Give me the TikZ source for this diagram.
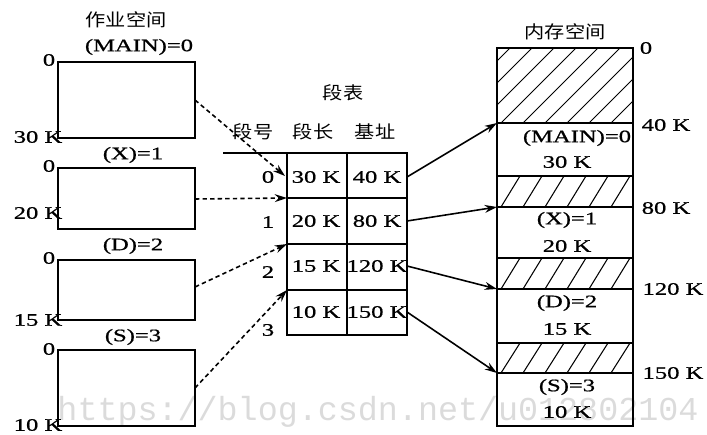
\documentclass[tikz,border=0pt]{standalone}
\usepackage{fontspec}
\setmainfont{Liberation Serif}[FakeStretch=1.4, FakeBold=0.8]
\setmonofont{Liberation Mono}
\newfontfamily\cjk{Noto Sans CJK SC}[FakeStretch=1.15]
\usetikzlibrary{arrows.meta}

\begin{document}
\begin{tikzpicture}[x=0.02cm, y=-0.02cm]
    \useasboundingbox (0,0) rectangle (707,435);

    % Kiểu nét và chữ
    \tikzset{
        c_box/.style={line width=1pt, color=black},
        c_hatch/.style={line width=0.6pt, color=black},
        c_dash/.style={line width=0.9pt, dash pattern=on 2.5pt off 1.8pt, -{Stealth[length=7pt, width=4.5pt]}},
        c_arrow/.style={line width=0.9pt, -{Stealth[length=7pt, width=4.5pt]}},
        t_lat/.style={inner sep=0pt, font=\fontsize{10}{12}\selectfont},
        t_zh/.style={inner sep=0pt, font=\cjk\fontsize{10}{12}\selectfont},
        t_wm/.style={inner sep=0pt, text=gray!28, font=\ttfamily\fontsize{19}{22}\selectfont}
    }

    % Chữ mờ phía dưới
    \node[t_wm] (wm) at (378,412) {https://blog.csdn.net/u012802104};

    % Không gian công việc: bốn đoạn
    \foreach \t/\b in {62/138, 168/229, 260/320, 350/426}
        \draw[c_box] (58,\t) rectangle (195,\b);

    \node[t_zh] (ws) at (126,20) {作业空间};
    \node[t_lat] (nMain) at (139,47) {(MAIN)=0};
    \node[t_lat] (nX) at (133,155) {(X)=1};
    \node[t_lat] (nD) at (133,246) {(D)=2};
    \node[t_lat] (nS) at (133,337) {(S)=3};

    \foreach \y [count=\i] in {60,166,258,349}
        \node[t_lat] (z\i) at (49,\y) {0};
    \foreach \y/\s [count=\i] in {137/30, 213/20, 320/15, 425/10}
        \node[t_lat] (len\i) at (38,\y) {\s\ K};

    % Bảng đoạn
    \draw[c_box] (223,153) -- (407,153);
    \draw[c_box] (287,153) rectangle (407,335);
    \draw[c_box] (347,153) -- (347,335);
    \foreach \y in {198,244,290}
        \draw[c_box] (287,\y) -- (407,\y);

    \node[t_zh] (tbl) at (343,93) {段表};
    \node[t_zh] (hNo) at (253,132) {段号};
    \node[t_zh] (hLen) at (313,132) {段长};
    \node[t_zh] (hBase) at (375,132) {基址};

    \foreach \y/\n in {177/0, 222/1, 272/2, 330/3}
        \node[t_lat] (r\n) at (268,\y) {\n};
    \foreach \y/\l/\b [count=\i] in {177/30/40, 221/20/80, 266/15/120, 312/10/150} {
        \node[t_lat] (cl\i) at (316,\y) {\l\ K};
        \node[t_lat] (cb\i) at (377,\y) {\b\ K};
    }

    % Không gian bộ nhớ
    \foreach \t/\b/\d in {48/123/75, 176/207/19, 258/289/19, 343/373/19} {
        \begin{scope}
            \clip (497,\t) rectangle (633,\b);
            \foreach \x in {413,435,...,640}
                \draw[c_hatch] (\x,\b) -- (\x+\d,\t);
        \end{scope}
    }
    \draw[c_box] (497,48) rectangle (633,426);
    \foreach \y in {123,176,207,258,289,343,373}
        \draw[c_box] (497,\y) -- (633,\y);

    \node[t_zh] (mem) at (565,32) {内存空间};
    \node[t_lat] (a0) at (646,48) {0};
    \node[t_lat] (a1) at (666,125) {40 K};
    \node[t_lat] (a2) at (666,208) {80 K};
    \node[t_lat] (a3) at (673,289) {120 K};
    \node[t_lat] (a4) at (673,373) {150 K};

    \node[t_lat] (mMain) at (577,138) {(MAIN)=0};
    \node[t_lat] (mMainL) at (567,162) {30 K};
    \node[t_lat] (mX) at (567,220) {(X)=1};
    \node[t_lat] (mXL) at (567,246) {20 K};
    \node[t_lat] (mD) at (567,303) {(D)=2};
    \node[t_lat] (mDL) at (567,329) {15 K};
    \node[t_lat] (mS) at (567,387) {(S)=3};
    \node[t_lat] (mSL) at (567,412) {10 K};

    % Điểm đầu cuối của các mũi tên
    \coordinate (m0) at (195,100);
    \coordinate (m1) at (195,199);
    \coordinate (m2) at (195,287);
    \coordinate (m3) at (195,388);
    \coordinate (t0) at (285,176);
    \coordinate (t1) at (287,198);
    \coordinate (t2) at (287,244);
    \coordinate (t3) at (287,290);
    \coordinate (b0) at (407,177);
    \coordinate (b1) at (407,221);
    \coordinate (b2) at (407,266);
    \coordinate (b3) at (407,312);
    \coordinate (p0) at (497,123);
    \coordinate (p1) at (497,207);
    \coordinate (p2) at (497,289);
    \coordinate (p3) at (497,373);

    \foreach \i in {0,1,2,3} {
        \draw[c_dash] (m\i) -- (t\i);
        \draw[c_arrow] (b\i) -- (p\i);
    }
\end{tikzpicture}
\end{document}
